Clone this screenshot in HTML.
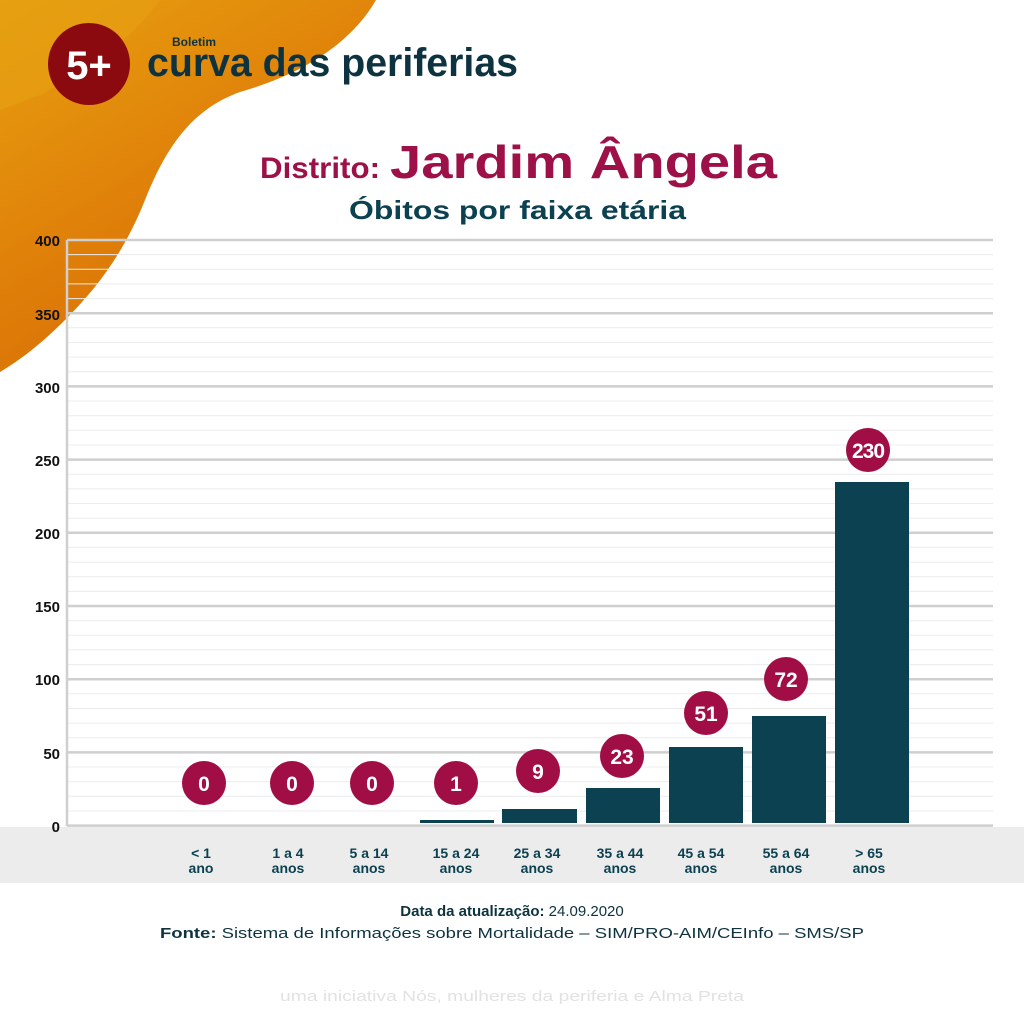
<!DOCTYPE html>
<html><head><meta charset="utf-8"><style>
html,body{margin:0;padding:0;background:#fff}
svg{display:block}
text{font-family:"Liberation Sans",sans-serif}
</style></head><body>
<svg width="1024" height="1024" viewBox="0 0 1024 1024" xmlns="http://www.w3.org/2000/svg">
<defs>
<linearGradient id="og" x1="0" y1="0" x2="0.6" y2="1">
<stop offset="0" stop-color="#e8a010"/>
<stop offset="0.5" stop-color="#e0830a"/>
<stop offset="1" stop-color="#d86a05"/>
</linearGradient>
</defs>
<rect width="1024" height="1024" fill="#fff"/>
<path d="M0 0 L376 0 C350 45 300 75 240 92 C190 110 165 150 145 200 C125 250 100 285 65 320 C40 345 20 360 0 372 Z" fill="url(#og)"/>
<path d="M0 0 L160 0 C130 40 90 70 40 95 L0 110 Z" fill="#e6a012" opacity="0.6"/>
<circle cx="89" cy="64" r="41" fill="#8b0a10"/>
<text x="89" y="79" font-size="40" fill="#fff" font-weight="bold" text-anchor="middle">5+</text>
<text x="172" y="46" font-size="12" fill="#0d3340" font-weight="bold">Boletim</text>
<text x="147" y="76" font-size="40" fill="#0d3340" font-weight="bold" textLength="371" lengthAdjust="spacingAndGlyphs">curva das periferias</text>
<text x="260" y="178" font-size="30" fill="#9e1048" font-weight="bold" textLength="120" lengthAdjust="spacingAndGlyphs">Distrito:</text>
<text x="390" y="178" font-size="46" fill="#9e1048" font-weight="bold" textLength="387" lengthAdjust="spacingAndGlyphs">Jardim Ângela</text>
<text x="349" y="219" font-size="26" fill="#0b4150" font-weight="bold" textLength="337" lengthAdjust="spacingAndGlyphs">Óbitos por faixa etária</text>
<rect x="0" y="827" width="1024" height="56" fill="#ececec"/>
<g stroke="#ececec" stroke-width="1">
<line x1="67" x2="993" y1="254.6" y2="254.6"/><line x1="67" x2="993" y1="269.3" y2="269.3"/><line x1="67" x2="993" y1="283.9" y2="283.9"/><line x1="67" x2="993" y1="298.6" y2="298.6"/>
<line x1="67" x2="993" y1="327.8" y2="327.8"/><line x1="67" x2="993" y1="342.5" y2="342.5"/><line x1="67" x2="993" y1="357.1" y2="357.1"/><line x1="67" x2="993" y1="371.8" y2="371.8"/>
<line x1="67" x2="993" y1="401" y2="401"/><line x1="67" x2="993" y1="415.7" y2="415.7"/><line x1="67" x2="993" y1="430.3" y2="430.3"/><line x1="67" x2="993" y1="445" y2="445"/>
<line x1="67" x2="993" y1="474.2" y2="474.2"/><line x1="67" x2="993" y1="488.9" y2="488.9"/><line x1="67" x2="993" y1="503.5" y2="503.5"/><line x1="67" x2="993" y1="518.2" y2="518.2"/>
<line x1="67" x2="993" y1="547.4" y2="547.4"/><line x1="67" x2="993" y1="562.1" y2="562.1"/><line x1="67" x2="993" y1="576.7" y2="576.7"/><line x1="67" x2="993" y1="591.4" y2="591.4"/>
<line x1="67" x2="993" y1="620.6" y2="620.6"/><line x1="67" x2="993" y1="635.3" y2="635.3"/><line x1="67" x2="993" y1="649.9" y2="649.9"/><line x1="67" x2="993" y1="664.6" y2="664.6"/>
<line x1="67" x2="993" y1="693.8" y2="693.8"/><line x1="67" x2="993" y1="708.5" y2="708.5"/><line x1="67" x2="993" y1="723.1" y2="723.1"/><line x1="67" x2="993" y1="737.8" y2="737.8"/>
<line x1="67" x2="993" y1="767" y2="767"/><line x1="67" x2="993" y1="781.7" y2="781.7"/><line x1="67" x2="993" y1="796.3" y2="796.3"/><line x1="67" x2="993" y1="811" y2="811"/>
</g>
<g stroke="#cfcfcf" stroke-width="2.5">
<line x1="67" x2="993" y1="240" y2="240"/><line x1="67" x2="993" y1="313.2" y2="313.2"/><line x1="67" x2="993" y1="386.4" y2="386.4"/><line x1="67" x2="993" y1="459.6" y2="459.6"/><line x1="67" x2="993" y1="532.8" y2="532.8"/><line x1="67" x2="993" y1="606" y2="606"/><line x1="67" x2="993" y1="679.2" y2="679.2"/><line x1="67" x2="993" y1="752.4" y2="752.4"/><line x1="67" x2="993" y1="825.6" y2="825.6"/>
<line x1="67" x2="67" y1="240" y2="826"/>
</g>
<g font-size="15" font-weight="bold" fill="#111" text-anchor="end">
<text x="60" y="246">400</text><text x="60" y="320">350</text><text x="60" y="393">300</text><text x="60" y="466">250</text><text x="60" y="539">200</text><text x="60" y="612">150</text><text x="60" y="685">100</text><text x="60" y="759">50</text><text x="60" y="832">0</text>
</g>
<g fill="#0b4150">
<rect x="420" y="820" width="74" height="3"/>
<rect x="502" y="809" width="75" height="14"/>
<rect x="586" y="788" width="74" height="35"/>
<rect x="669" y="747" width="74" height="76"/>
<rect x="752" y="716" width="74" height="107"/>
<rect x="835" y="482" width="74" height="341"/>
</g>
<g fill="#a10e45">
<circle cx="204" cy="783" r="22"/><circle cx="292" cy="783" r="22"/><circle cx="372" cy="783" r="22"/><circle cx="456" cy="783" r="22"/><circle cx="538" cy="771" r="22"/><circle cx="622" cy="756" r="22"/><circle cx="706" cy="713" r="22"/><circle cx="786" cy="679" r="22"/><circle cx="868" cy="450" r="22"/>
</g>
<g font-size="21" font-weight="bold" fill="#fff" text-anchor="middle">
<text x="204" y="791">0</text><text x="292" y="791">0</text><text x="372" y="791">0</text><text x="456" y="791">1</text><text x="538" y="779">9</text><text x="622" y="764">23</text><text x="706" y="721">51</text><text x="786" y="687">72</text><text x="868" y="458" letter-spacing="-1">230</text>
</g>
<g font-size="14" font-weight="bold" fill="#0b4150" text-anchor="middle">
<text x="201" y="858">&lt; 1</text><text x="201" y="873">ano</text>
<text x="288" y="858">1 a 4</text><text x="288" y="873">anos</text>
<text x="369" y="858">5 a 14</text><text x="369" y="873">anos</text>
<text x="456" y="858">15 a 24</text><text x="456" y="873">anos</text>
<text x="537" y="858">25 a 34</text><text x="537" y="873">anos</text>
<text x="620" y="858">35 a 44</text><text x="620" y="873">anos</text>
<text x="701" y="858">45 a 54</text><text x="701" y="873">anos</text>
<text x="786" y="858">55 a 64</text><text x="786" y="873">anos</text>
<text x="869" y="858">&gt; 65</text><text x="869" y="873">anos</text>
</g>
<text x="512" y="916" font-size="15" fill="#0d3340" text-anchor="middle"><tspan font-weight="bold">Data da atualização:</tspan> 24.09.2020</text>
<text x="512" y="938" font-size="15" fill="#0d3340" text-anchor="middle" textLength="704" lengthAdjust="spacingAndGlyphs"><tspan font-weight="bold">Fonte:</tspan> Sistema de Informações sobre Mortalidade – SIM/PRO-AIM/CEInfo – SMS/SP</text>
<text x="512" y="1001" font-size="15" fill="#e2e2e2" text-anchor="middle" textLength="464" lengthAdjust="spacingAndGlyphs">uma iniciativa Nós, mulheres da periferia e Alma Preta</text>
</svg>
</body></html>
